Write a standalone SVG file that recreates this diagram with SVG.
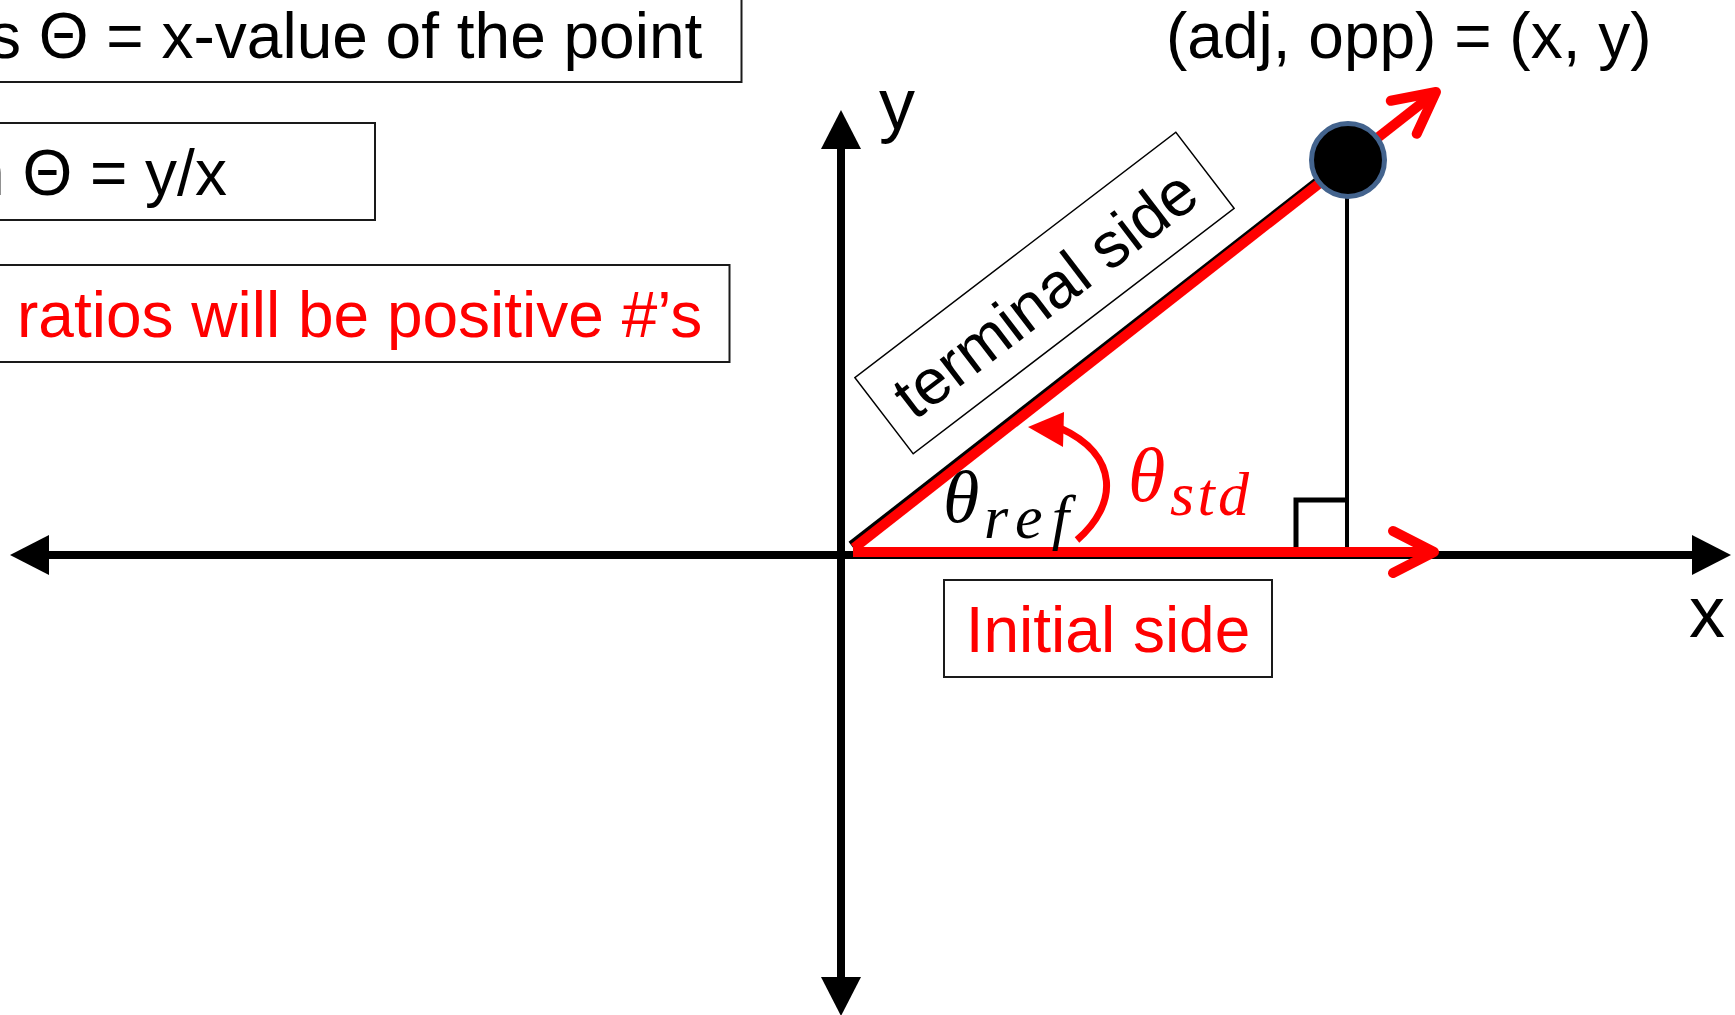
<svg xmlns="http://www.w3.org/2000/svg" width="1735" height="1015" viewBox="0 0 1735 1015">
  <style>
    .box { fill: #ffffff; stroke: #1a1a1a; stroke-width: 2; }
    .txt { font-family: "Liberation Sans", Arial, sans-serif; font-size: 64px; fill: #000000; }
    .red { fill: #ff0000; }
    .axis { stroke: #000000; stroke-width: 8; fill: none; }
    .math { font-family: "Liberation Serif", "Times New Roman", serif; font-style: italic; }
  </style>
  <defs>
    <marker id="axisHead" markerUnits="userSpaceOnUse" markerWidth="40" markerHeight="40" viewBox="0 -20 40 40" refX="0" refY="0" orient="auto-start-reverse" overflow="visible">
      <path d="M0,-20 L39,0 L0,20 Z" fill="#000000"/>
    </marker>
    <marker id="redChevron" markerUnits="userSpaceOnUse" markerWidth="60" markerHeight="60" viewBox="-50 -30 60 60" refX="0" refY="0" orient="auto" overflow="visible">
      <path d="M-41,-21 L0,0 L-41,21" fill="none" stroke="#ff0000" stroke-width="10" stroke-linecap="round" stroke-linejoin="round"/>
    </marker>
  </defs>
  <rect width="1735" height="1015" fill="#ffffff"/>

  <g id="box-cos">
    <rect class="box" x="-100" y="-20" width="841.5" height="102"/>
    <text class="txt" x="-11" y="58">s Θ = x-value of the point</text>
  </g>
  <g id="box-tan">
    <rect class="box" x="-100" y="123" width="475" height="97"/>
    <text class="txt" x="-31" y="195">n Θ = y/x</text>
  </g>
  <g id="box-ratios">
    <rect class="box" x="-100" y="265" width="829.5" height="97"/>
    <text class="txt red" x="17" y="337">ratios will be positive #’s</text>
  </g>

  <g id="connectors">
    <line id="x-axis" class="axis" x1="49" y1="555" x2="1692" y2="555" marker-start="url(#axisHead)" marker-end="url(#axisHead)"/>
    <line id="y-axis" class="axis" x1="841" y1="149" x2="841" y2="977" marker-start="url(#axisHead)" marker-end="url(#axisHead)"/>
    <line id="terminal-black" x1="851" y1="545" x2="1348" y2="157" stroke="#000000" stroke-width="8"/>
    <line id="opposite-side" x1="1347" y1="190" x2="1347" y2="555" stroke="#000000" stroke-width="4"/>
    <path id="right-angle" d="M1296,555 V500 H1348" fill="none" stroke="#000000" stroke-width="5"/>
    <line id="initial-side" x1="853" y1="552" x2="1434" y2="552" stroke="#ff0000" stroke-width="10" marker-end="url(#redChevron)"/>
    <line id="terminal-side" x1="854" y1="548" x2="1436" y2="92" stroke="#ff0000" stroke-width="10" marker-end="url(#redChevron)"/>
    <path id="angle-arc" d="M1077,540 C1118,505 1120,455 1060,428" fill="none" stroke="#ff0000" stroke-width="7"/>
    <path id="angle-arc-head" d="M1028,427 L1064,412 L1063,447 Z" fill="#ff0000"/>
  </g>

  <g id="point">
    <circle cx="1348" cy="160" r="36.5" fill="#000000" stroke="#43638d" stroke-width="5"/>
  </g>

  <g id="point-label">
    <text class="txt" x="1166" y="58">(adj, opp) = (x, y)</text>
  </g>

  <g id="axis-labels">
    <text class="txt" x="879" y="129" style="font-size:72px">y</text>
    <text class="txt" x="1689" y="637" style="font-size:72px">x</text>
  </g>

  <g id="terminal-label" transform="translate(1044.5,293) rotate(-37.4)">
    <rect x="-202" y="-48" width="404" height="96" fill="#ffffff" stroke="#000000" stroke-width="1.5"/>
    <text class="txt" x="0" y="23" text-anchor="middle">terminal side</text>
  </g>

  <g id="initial-label">
    <rect class="box" x="944" y="580" width="328" height="97"/>
    <text class="txt red" x="1108" y="652" text-anchor="middle">Initial side</text>
  </g>

  <g id="theta-ref">
    <text class="math" x="943" y="522" font-size="74" fill="#000000">θ</text>
    <text class="math" x="984" y="538" font-size="62" fill="#000000" textLength="85" lengthAdjust="spacing">ref</text>
  </g>

  <g id="theta-std">
    <text class="math" x="1128" y="501" font-size="76" fill="#ff0000">θ</text>
    <text class="math" x="1170" y="515" font-size="62" fill="#ff0000" textLength="79" lengthAdjust="spacing">std</text>
  </g>
</svg>
